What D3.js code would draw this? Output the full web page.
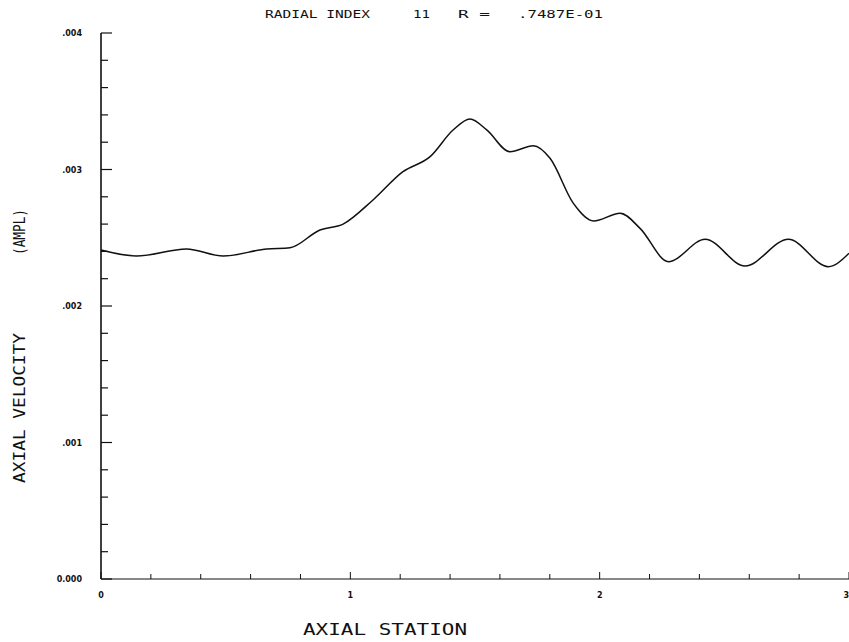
<!DOCTYPE html>
<html>
<head>
<meta charset="utf-8">
<script src="https://cdn.jsdelivr.net/npm/d3@7/dist/d3.min.js"></script>
<style>
  html, body { margin: 0; padding: 0; background: #fff; }
  svg { display: block; }
  text { fill: #111; }
</style>
</head>
<body>
<svg id="chart" width="849" height="642"></svg>
<script>
// Axial velocity amplitude along the axial station, radial index 11
const station = [0.000, 0.143, 0.343, 0.490, 0.665, 0.758, 0.878, 0.971, 1.091, 1.211,
                 1.320, 1.412, 1.480, 1.547, 1.640, 1.734, 1.801, 1.894, 1.976, 2.082,
                 2.162, 2.276, 2.423, 2.583, 2.757, 2.917, 3.000];
const velocity = [0.002410, 0.002366, 0.002418, 0.002366, 0.002418, 0.002427, 0.002557, 0.002600, 0.002777, 0.002984,
                  0.003094, 0.003289, 0.003370, 0.003290, 0.003130, 0.003174, 0.003082, 0.002754, 0.002623, 0.002680,
                  0.002569, 0.002325, 0.002489, 0.002293, 0.002489, 0.002288, 0.002386];

const xMajor = [0, 1, 2, 3];
const xMajorLabels = ["0", "1", "2", "3"];
const yMajor = [0, 0.001, 0.002, 0.003, 0.004];
const yMajorLabels = ["0.000", ".001", ".002", ".003", ".004"];
const titleParts = ["RADIAL INDEX", "11", "R =", ".7487E-01"];

const svg = d3.select("#chart");
const x = d3.scaleLinear().domain([0, 3]).range([101, 849]);
const y = d3.scaleLinear().domain([0, 0.004]).range([579, 33]);

const ink = "#111";

// y axis: ticks point inward (to the right)
const yMinor = d3.range(0, 21).map(i => i * 0.0002);
const gy = svg.append("g").attr("transform", `translate(${x(0)},0)`);
gy.append("line").attr("y1", y(0)).attr("y2", y(0.004))
  .attr("stroke", ink).attr("stroke-width", 1.6);
gy.selectAll("line.minor").data(yMinor).join("line").attr("class", "minor")
  .attr("x1", 0).attr("x2", (d, i) => (i % 5 === 0) ? 11 : 7)
  .attr("y1", d => y(d)).attr("y2", d => y(d))
  .attr("stroke", ink).attr("stroke-width", 1.2);
gy.selectAll("text").data(yMajor).join("text")
  .attr("x", -19).attr("y", d => y(d) + 3)
  .attr("text-anchor", "end")
  .attr("font-family", "DejaVu Sans, sans-serif").attr("font-weight", "bold")
  .attr("font-size", 8)
  .text((d, i) => yMajorLabels[i]);

// x axis: ticks point inward (upward)
const xMinor = d3.range(0, 16).map(i => i * 0.2);
const gx = svg.append("g").attr("transform", `translate(0,${y(0)})`);
gx.append("line").attr("x1", x(0)).attr("x2", x(3))
  .attr("stroke", ink).attr("stroke-width", 1);
gx.selectAll("line.minor").data(xMinor).join("line").attr("class", "minor")
  .attr("x1", d => x(d)).attr("x2", d => x(d))
  .attr("y1", 0).attr("y2", (d, i) => (i % 5 === 0) ? -7 : -5)
  .attr("stroke", ink).attr("stroke-width", 1);
gx.selectAll("text").data(xMajor).join("text")
  .attr("x", d => x(d)).attr("y", 19)
  .attr("text-anchor", (d, i) => i === xMajor.length - 1 ? "end" : "middle")
  .attr("font-family", "DejaVu Sans, sans-serif").attr("font-weight", "bold")
  .attr("font-size", 8)
  .text((d, i) => xMajorLabels[i]);

// velocity curve
const line = d3.line()
  .x((d, i) => x(station[i]))
  .y(d => y(d))
  .curve(d3.curveMonotoneX);
svg.append("path").datum(velocity)
  .attr("d", line)
  .attr("fill", "none").attr("stroke", ink).attr("stroke-width", 1.5);

// title
const titleX = [265, 413, 458, 518];
const titleW = [105, 17, 32, 85];
svg.selectAll("text.title").data(titleParts).join("text").attr("class", "title")
  .attr("x", (d, i) => titleX[i]).attr("y", 18)
  .attr("font-family", "DejaVu Sans Mono, monospace").attr("font-size", 11)
  .attr("textLength", (d, i) => titleW[i]).attr("lengthAdjust", "spacingAndGlyphs")
  .text(d => d);

// axis titles
svg.append("text")
  .attr("x", 303).attr("y", 635)
  .attr("font-family", "DejaVu Sans Mono, monospace").attr("font-size", 16)
  .attr("textLength", 164).attr("lengthAdjust", "spacingAndGlyphs")
  .text("AXIAL STATION");

svg.append("text")
  .attr("transform", "translate(25,483) rotate(-90)")
  .attr("font-family", "DejaVu Sans Mono, monospace").attr("font-size", 16)
  .attr("textLength", 150).attr("lengthAdjust", "spacingAndGlyphs")
  .text("AXIAL VELOCITY");

svg.append("text")
  .attr("transform", "translate(25,255) rotate(-90)")
  .attr("font-family", "DejaVu Sans Mono, monospace").attr("font-size", 16)
  .attr("textLength", 46).attr("lengthAdjust", "spacingAndGlyphs")
  .text("(AMPL)");
</script>
</body>
</html>
